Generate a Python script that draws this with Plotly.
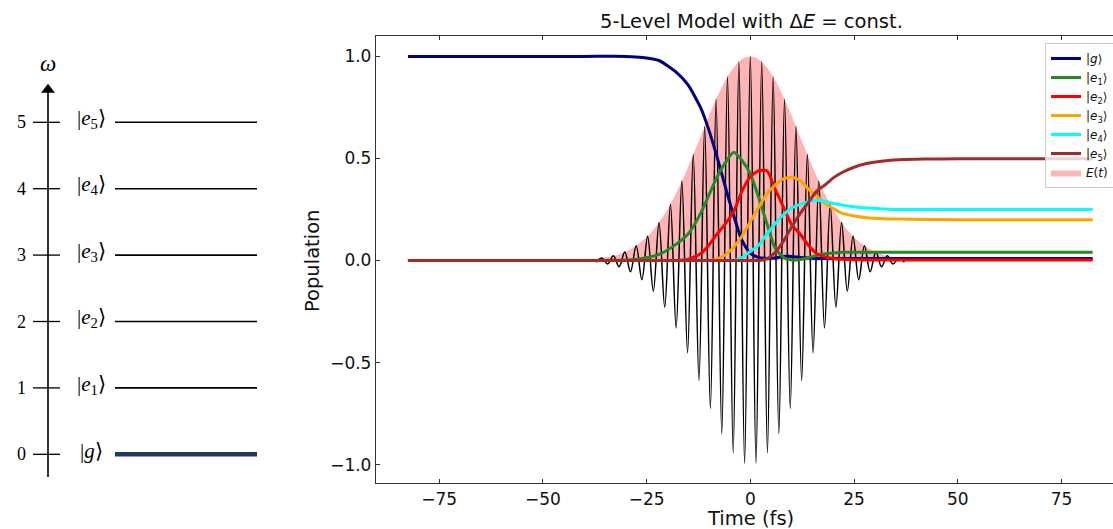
import plotly.graph_objects as go

# ---------------- data ----------------
# population curves
t_pop = [-82.5, -40, -30, -26, -22, -18, -15, -12, -10, -8, -6, -4, -2, 0, 2, 4, 6, 8, 10,
         12, 14, 16, 18, 20, 22, 25, 28, 32, 36, 42, 50, 60, 82.5]
pop_g = [1.0, 1.0, 1.0, 0.995, 0.98, 0.925, 0.86, 0.75, 0.64, 0.506, 0.36, 0.22, 0.098, 0.035, 0.015,
         0.01, 0.012, 0.02, 0.02, 0.015, 0.012, 0.01, 0.01, 0.01, 0.01, 0.01, 0.01, 0.01, 0.01, 0.01,
         0.01, 0.01, 0.01]
pop_e1 = [0.0, 0.0, 0.002, 0.01, 0.03, 0.078, 0.13, 0.23, 0.32, 0.41, 0.48, 0.53, 0.49, 0.425, 0.31,
          0.18, 0.06, 0.015, 0.002, 0.005, 0.014, 0.025, 0.033, 0.037, 0.04, 0.041, 0.041, 0.041,
          0.041, 0.041, 0.041, 0.041, 0.041]
pop_e2 = [0.0, 0.0, 0.0, 0.0, 0.0, 0.0, 0.005, 0.033, 0.075, 0.13, 0.18, 0.24, 0.34, 0.41, 0.44, 0.44,
          0.35, 0.26, 0.175, 0.13, 0.075, 0.035, 0.018, 0.01, 0.006, 0.004, 0.003, 0.003, 0.003,
          0.003, 0.003, 0.003, 0.003]
pop_e3 = [0.0, 0.0, 0.0, 0.0, 0.0, 0.0, 0.0, 0.0, 0.0, 0.008, 0.028, 0.065, 0.12, 0.19, 0.26, 0.327,
          0.37, 0.40, 0.408, 0.392, 0.35, 0.315, 0.28, 0.255, 0.232, 0.218, 0.21, 0.205, 0.203,
          0.201, 0.2, 0.2, 0.2]
pop_e4 = [0.0, 0.0, 0.0, 0.0, 0.0, 0.0, 0.0, 0.0, 0.0, 0.0, 0.0, 0.0, 0.015, 0.045, 0.075, 0.13,
          0.18, 0.225, 0.258, 0.275, 0.288, 0.294, 0.29, 0.28, 0.272, 0.263, 0.257, 0.253, 0.25,
          0.25, 0.25, 0.25, 0.25]
pop_e5 = [0.0, 0.0, 0.0, 0.0, 0.0, 0.0, 0.0, 0.0, 0.0, 0.0, 0.0, 0.0, 0.0, 0.0, 0.0, 0.008, 0.04,
          0.095, 0.165, 0.23, 0.285, 0.34, 0.37, 0.405, 0.43, 0.457, 0.475, 0.488, 0.494, 0.497,
          0.498, 0.498, 0.498]

series_names = ["|<i>g</i>⟩", "|<i>e</i><sub>1</sub>⟩", "|<i>e</i><sub>2</sub>⟩",
                "|<i>e</i><sub>3</sub>⟩", "|<i>e</i><sub>4</sub>⟩", "|<i>e</i><sub>5</sub>⟩"]
series_colors = ["#000080", "#228B22", "#ff0000", "#ffa500", "#00ffff", "#a52a2a"]

# electric field: extrema of the oscillation (time in fs, value)
t_E = [-37.125, -35.75, -34.375, -33.0, -31.625, -30.25, -28.875, -27.5, -26.125, -24.75,
       -23.375, -22.0, -20.625, -19.25, -17.875, -16.5, -15.125, -13.75, -12.375, -11.0,
       -9.625, -8.25, -6.875, -5.5, -4.125, -2.75, -1.375, 0.0, 1.375, 2.75, 4.125, 5.5,
       6.875, 8.25, 9.625, 11.0, 12.375, 13.75, 15.125, 16.5, 17.875, 19.25, 20.625, 22.0,
       23.375, 24.75, 26.125, 27.5, 28.875, 30.25, 31.625, 33.0, 34.375, 35.75, 37.125]
E_val = [-0.008, 0.012, -0.017, 0.023, -0.031, 0.042, -0.055, 0.072, -0.094, 0.119,
         -0.150, 0.186, -0.229, 0.276, -0.330, 0.389, -0.452, 0.519, -0.588, 0.657,
         -0.725, 0.790, -0.849, 0.900, -0.943, 0.974, -0.994, 1.0, -0.994, 0.974, -0.943, 0.900,
         -0.849, 0.790, -0.725, 0.657, -0.588, 0.519, -0.452, 0.389, -0.330, 0.276, -0.229, 0.186,
         -0.150, 0.119, -0.094, 0.072, -0.055, 0.042, -0.031, 0.023, -0.017, 0.012, -0.008]

# level diagram
levels = [0, 1, 2, 3, 4, 5]
level_labels = ["|<i>g</i>⟩", "|<i>e</i><sub>1</sub>⟩", "|<i>e</i><sub>2</sub>⟩",
                "|<i>e</i><sub>3</sub>⟩", "|<i>e</i><sub>4</sub>⟩", "|<i>e</i><sub>5</sub>⟩"]

x_ticks = [-75, -50, -25, 0, 25, 50, 75]
y_ticks = [-1.0, -0.5, 0.0, 0.5, 1.0]

# ---------------- layout constants ----------------
W, H = 1113, 529
FONT = "DejaVu Sans"
SERIF = "Liberation Serif"

fig = go.Figure()

# envelope fill
fig.add_trace(go.Scatter(
    x=t_E, y=[abs(v) for v in E_val], mode="lines", fill="tozeroy",
    fillcolor="rgba(255,0,0,0.29)", line=dict(width=0, shape="spline", color="rgba(255,0,0,0.29)"),
    name="<i>E</i>(<i>t</i>)", legendrank=7))
# field oscillation
fig.add_trace(go.Scatter(
    x=t_E, y=E_val, mode="lines", line=dict(color="black", width=1.5, shape="spline", smoothing=1.0),
    showlegend=False, hoverinfo="skip"))

for i, (name, col, ys) in enumerate(zip(series_names, series_colors,
                                         [pop_g, pop_e1, pop_e2, pop_e3, pop_e4, pop_e5])):
    fig.add_trace(go.Scatter(x=t_pop, y=ys, mode="lines", name=name,
                             line=dict(color=col, width=3, shape="spline", smoothing=0.6),
                             legendrank=i + 1))

# ---------------- level diagram (left panel) ----------------
LX0, LX1 = 115, 257
TX0, TX1 = 33, 60
AX = 48
for lv in levels:
    is_g = lv == 0
    fig.add_trace(go.Scatter(x=[LX0, LX1], y=[lv, lv], mode="lines", xaxis="x2", yaxis="y2",
                             line=dict(color="#1f3864" if is_g else "black", width=4.5 if is_g else 1.6),
                             showlegend=False, hoverinfo="skip"))
    fig.add_trace(go.Scatter(x=[TX0, TX1], y=[lv, lv], mode="lines", xaxis="x2", yaxis="y2",
                             line=dict(color="black", width=1.3), showlegend=False, hoverinfo="skip"))
# vertical axis line and arrow head
fig.add_trace(go.Scatter(x=[AX, AX], y=[-0.34, 5.45], mode="lines", xaxis="x2", yaxis="y2",
                         line=dict(color="black", width=1.6), showlegend=False, hoverinfo="skip"))
fig.add_trace(go.Scatter(x=[AX], y=[5.49], mode="markers", xaxis="x2", yaxis="y2",
                         marker=dict(symbol="triangle-up", size=12, color="black"),
                         showlegend=False, hoverinfo="skip"))

annotations = []
for lv, lab in zip(levels, level_labels):
    annotations.append(dict(x=91, y=lv + 0.05, xref="x2", yref="y2", text=lab, showarrow=False,
                            xanchor="center", yanchor="middle",
                            font=dict(family=SERIF, size=21, color="black")))
    annotations.append(dict(x=28, y=lv, xref="x2", yref="y2", text=str(lv), showarrow=False,
                            xanchor="right", yanchor="middle",
                            font=dict(family=SERIF, size=18, color="black")))
annotations.append(dict(x=AX, y=5.88, xref="x2", yref="y2", text="<i>ω</i>", showarrow=False,
                        xanchor="center", yanchor="middle",
                        font=dict(family=SERIF, size=23, color="black")))

# main axes titles & title
annotations.append(dict(x=751 / W, y=1 - 21 / H, xref="paper", yref="paper",
                        xanchor="center", yanchor="middle",
                        text="5-Level Model with Δ<i>E</i> = const.", showarrow=False,
                        font=dict(family=FONT, size=19.5, color="#111")))
annotations.append(dict(x=750 / W, y=1 - 518 / H, xref="paper", yref="paper", text="Time (fs)",
                        xanchor="center", yanchor="middle",
                        showarrow=False, font=dict(family=FONT, size=19.5, color="#111")))
annotations.append(dict(x=312 / W, y=1 - 261 / H, xref="paper", yref="paper", text="Population",
                        xanchor="center", yanchor="middle",
                        showarrow=False, textangle=-90, font=dict(family=FONT, size=19.5, color="#111")))

axis_common = dict(showgrid=False, zeroline=False, ticks="inside", ticklen=4, tickwidth=1,
                   tickcolor="#333", linecolor="#333", linewidth=1.3, showline=True,
                   tickfont=dict(family=FONT, size=17, color="#111"))

fig.update_layout(
    width=W, height=H, margin=dict(l=0, r=0, t=0, b=0, autoexpand=False),
    paper_bgcolor="white", plot_bgcolor="white",
    showlegend=True,
    xaxis=dict(domain=[376 / W, 1], range=[-90.2, 87.4], tickvals=x_ticks, mirror="ticks",
               **axis_common),
    yaxis=dict(domain=[1 - 483 / H, 1 - 36 / H], range=[-1.09, 1.10], tickvals=y_ticks,
               tickformat=".1f", **axis_common),
    xaxis2=dict(domain=[0, 280 / W], range=[0, 280], visible=False, anchor="y2"),
    yaxis2=dict(domain=[0, 1], range=[-1.125, 6.842], visible=False, anchor="x2"),
    legend=dict(x=1045 / W, y=1 - 43 / H, xanchor="left", yanchor="top",
                bgcolor="rgba(255,255,255,0.8)", bordercolor="#cccccc", borderwidth=1,
                font=dict(family=FONT, size=12, color="#111"), itemwidth=30, tracegroupgap=0),
    annotations=annotations,
)

fig.write_html("out.html")
